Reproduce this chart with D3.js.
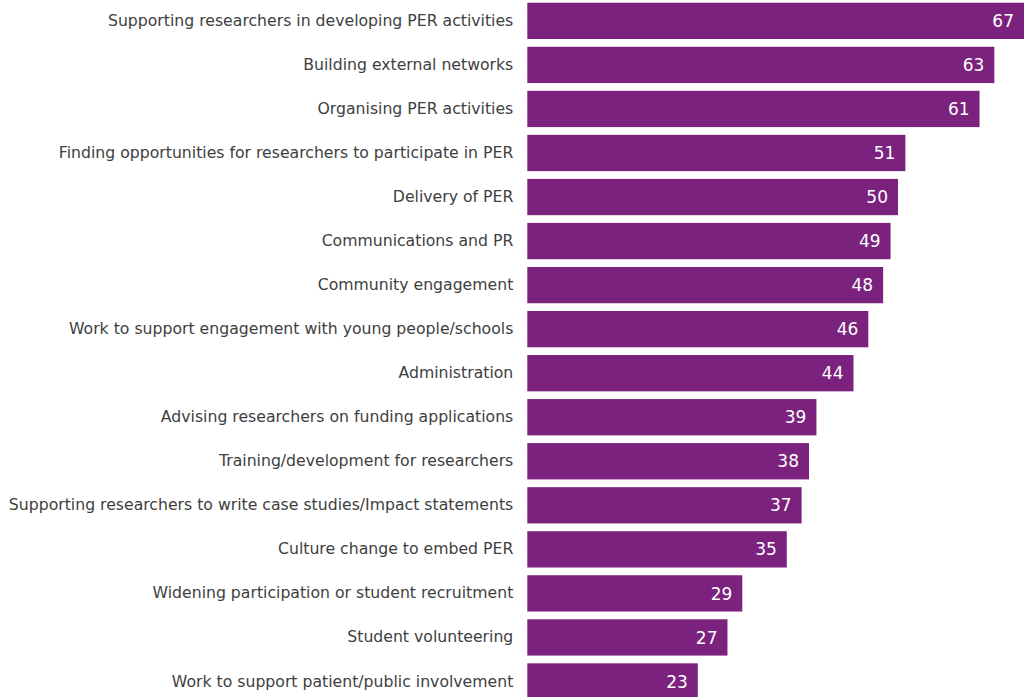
<!DOCTYPE html>
<html>
<head>
<meta charset="utf-8">
<script src="https://cdn.jsdelivr.net/npm/d3@7"></script>
<style>
  html, body { margin: 0; padding: 0; background: #fff; }
  svg { display: block; }
</style>
</head>
<body>
<svg id="chart" width="1024" height="697"></svg>
<script>
// Roles of public engagement professionals (count of respondents)
const categories = [
  "Supporting researchers in developing PER activities",
  "Building external networks",
  "Organising PER activities",
  "Finding opportunities for researchers to participate in PER",
  "Delivery of PER",
  "Communications and PR",
  "Community engagement",
  "Work to support engagement with young people/schools",
  "Administration",
  "Advising researchers on funding applications",
  "Training/development for researchers",
  "Supporting researchers to write case studies/Impact statements",
  "Culture change to embed PER",
  "Widening participation or student recruitment",
  "Student volunteering",
  "Work to support patient/public involvement"
];
const values = [67, 63, 61, 51, 50, 49, 48, 46, 44, 39, 38, 37, 35, 29, 27, 23];

const width = 1024, height = 697;
const margin = { top: -1.15, right: 0, left: 527.3 };
const step = 44.04;
const barColor = "#7a227d";

const svg = d3.select("#chart");

const x = d3.scaleLinear()
  .domain([0, 67])
  .range([margin.left, width - margin.right]);

const y = d3.scaleBand()
  .domain(categories)
  .range([margin.top, margin.top + step * categories.length])
  .paddingInner(0.176)
  .paddingOuter(0.088);

const data = categories.map((c, i) => ({ category: c, value: values[i] }));

// bars
svg.append("g")
  .selectAll("rect")
  .data(data)
  .join("rect")
  .attr("x", x(0))
  .attr("y", d => y(d.category))
  .attr("width", d => x(d.value) - x(0))
  .attr("height", y.bandwidth())
  .attr("fill", barColor);

// value labels inside bar ends
svg.append("g")
  .selectAll("text")
  .data(data)
  .join("text")
  .attr("x", d => x(d.value) - 10)
  .attr("y", d => y(d.category) + y.bandwidth() / 2)
  .attr("dy", "0.36em")
  .attr("text-anchor", "end")
  .attr("fill", "#ffffff")
  .attr("font-family", "'DejaVu Sans', Verdana, sans-serif")
  .attr("font-size", "17px")
  .text(d => d.value);

// category axis on the left
const yAxis = d3.axisLeft(y).tickSize(0).tickPadding(14);
const axisG = svg.append("g")
  .attr("transform", `translate(${margin.left},0)`)
  .call(yAxis);
axisG.select(".domain").remove();
axisG.selectAll("text")
  .attr("fill", "#404040")
  .attr("font-family", "'DejaVu Sans', Verdana, sans-serif")
  .attr("font-size", "15.7px");
</script>
</body>
</html>
